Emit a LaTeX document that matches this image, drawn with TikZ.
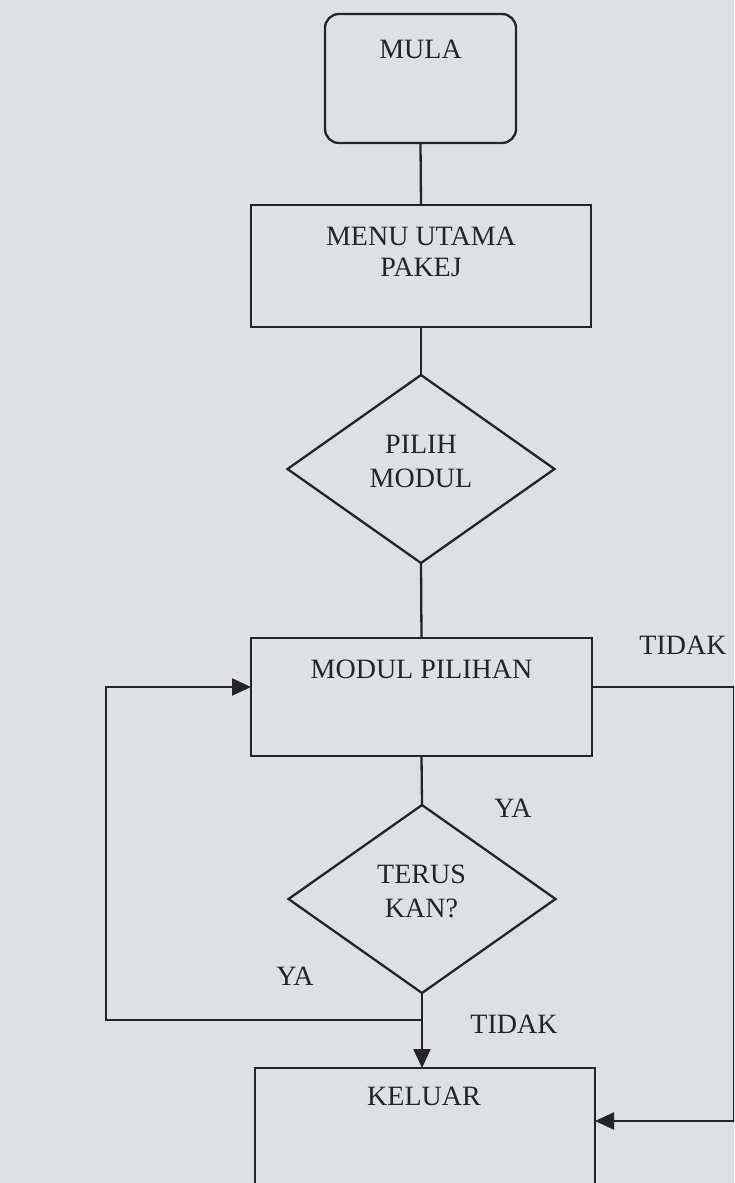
\documentclass[tikz,border=0pt]{standalone}
\usepackage{fontspec}
\setmainfont{Liberation Serif}
\usetikzlibrary{shapes.geometric,arrows.meta}
\definecolor{paper}{RGB}{221,225,228}
\definecolor{ink}{RGB}{36,36,42}
\begin{document}
\begin{tikzpicture}[x=1pt,y=-1pt,
  every node/.style={inner sep=0pt,outer sep=0pt},
  shapeline/.style={draw=ink,line width=2.3pt},
  procbox/.style={shapeline,rectangle,minimum width=#1},
  decision/.style={shapeline,diamond,minimum width=267pt,minimum height=188pt},
  link/.style={ink,line width=2.3pt},
  arr/.style={link,-{Triangle[length=19pt,width=17pt]}},
  txt/.style={anchor=base,text=ink,font=\fontsize{28}{32}\selectfont}]
  % page
  \useasboundingbox (0,0) rectangle (734,1183);
  \fill[paper] (0,0) rectangle (734,1183);
  \clip (0,0) rectangle (734,1183);

  % shapes
  \node[procbox=191pt,minimum height=129pt,rounded corners=14pt] (mula) at (420.5,78.5) {};
  \node[procbox=340pt,minimum height=122pt] (menu) at (421,266) {};
  \node[decision] (pilih) at (421,469) {};
  \node[procbox=341pt,minimum height=118pt] (modpil) at (421.5,697) {};
  \node[decision] (terus) at (422,899) {};
  \node[procbox=340pt,minimum height=132pt] (keluar) at (425,1134) {};

  % texts inside shapes
  \node[txt] (mulaT) at (420.5,58) {MULA};
  \node[txt] (menuT1) at (421,245) {MENU UTAMA};
  \node[txt] (menuT2) at (421,276) {PAKEJ};
  \node[txt] (pilihT1) at (421,453) {PILIH};
  \node[txt] (pilihT2) at (421,487) {MODUL};
  \node[txt] (modpilT) at (421.5,678) {MODUL PILIHAN};
  \node[txt] (terusT1) at (421.5,883) {TERUS};
  \node[txt] (terusT2) at (421.5,917) {KAN?};
  \node[txt] (keluarT) at (424,1105) {KELUAR};

  % branch labels
  \node[txt] (tidakR) at (683,654) {TIDAK};
  \node[txt] (yaU) at (513,817) {YA};
  \node[txt] (yaL) at (295,985) {YA};
  \node[txt] (tidakB) at (514,1033) {TIDAK};

  % main flow
  \draw[link] (mula.south) -- (menu.north);
  \draw[link] (menu.south) -- (pilih.north);
  \draw[link] (pilih.south) -- (modpil.north);
  \draw[link] (modpil.south) -- (terus.north);
  \draw[arr] (terus.south) -- (terus.south |- keluar.north);

  % loop back to the chosen module
  \coordinate (yaturn) at (106,1020);
  \draw[arr] (terus.south |- yaturn) -- (yaturn) |- ([yshift=10pt]modpil.west);

  % exit path on the right
  \coordinate (rturn) at (734,1121);
  \draw[arr] ([yshift=10pt]modpil.east) -| (rturn) -- (keluar.east |- rturn);
\end{tikzpicture}
\end{document}
